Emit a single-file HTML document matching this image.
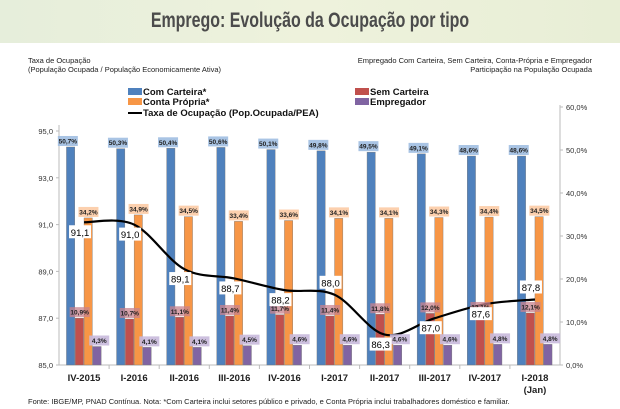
<!DOCTYPE html>
<html><head><meta charset="utf-8"><style>
body{margin:0;width:620px;height:409px;overflow:hidden;background:#fff;font-family:"Liberation Sans",sans-serif}
#band{position:absolute;left:0;top:0;width:620px;height:43px;background:linear-gradient(90deg,#e6eedb,#eef2dc 50%,#e8eed6)}
#title{position:absolute;left:0;top:9px;width:620px;text-align:center;font-size:21px;font-weight:bold;color:#4b4b4b;transform:scaleX(0.76);transform-origin:310px 0}
.t{position:absolute;font-size:7.5px;color:#222}
</style></head><body>
<div id="band"></div>
<div id="title">Emprego: Evolução da Ocupação por tipo</div>
<div class="t" style="left:28px;top:56px">Taxa de Ocupação<br>(População Ocupada / População Economicamente Ativa)</div>
<div class="t" style="right:28px;top:56px;text-align:right">Empregado Com Carteira, Sem Carteira, Conta-Própria e Empregador<br>Participação na População Ocupada</div>
<div class="t" style="left:28px;top:397px;font-size:7.5px">Fonte: IBGE/MP, PNAD Contínua. Nota: *Com Carteira inclui setores público e privado, e Conta Própria inclui trabalhadores doméstico e familiar.</div>
<svg id="c" width="620" height="409" style="position:absolute;left:0;top:0"></svg>
<script>
const categories=["IV-2015","I-2016","II-2016","III-2016","IV-2016","I-2017","II-2017","III-2017","IV-2017","I-2018"];
const comCarteira=[50.7,50.3,50.4,50.6,50.1,49.8,49.5,49.1,48.6,48.6];
const semCarteira=[10.9,10.7,11.1,11.4,11.7,11.4,11.8,12.0,12.1,12.1];
const contaPropria=[34.2,34.9,34.5,33.4,33.6,34.1,34.1,34.3,34.4,34.5];
const empregador=[4.3,4.1,4.1,4.5,4.6,4.6,4.6,4.6,4.8,4.8];
const taxaOcupacao=[91.1,91.0,89.1,88.7,88.2,88.0,86.3,87.0,87.6,87.8];
const leftTicks=[85,87,89,91,93,95];
const rightTicks=[0,10,20,30,40,50,60];

const svg=document.getElementById('c');const NS='http://www.w3.org/2000/svg';
function mk(t,a,p){const e=document.createElementNS(NS,t);for(const k in a)e.setAttribute(k,a[k]);(p||svg).appendChild(e);return e;}
const X0=59,X1=560,yL=v=>365-(v-85)*23.4,yR=v=>365-v*4.3;
const cw=(X1-X0)/categories.length,cx=i=>X0+cw*(i+0.5);
const fmt=v=>v.toFixed(1).replace('.',',');
let e=mk('line',{x1:X0,y1:125,x2:X0,y2:365,stroke:'#bbb'});
e=mk('line',{x1:X1,y1:105,x2:X1,y2:365,stroke:'#bbb'});
e=mk('line',{x1:X0,y1:365,x2:X1,y2:365,stroke:'#bbb'});
leftTicks.forEach(v=>{const t=mk('text',{x:X0-6,y:yL(v)+3,'font-size':7.5,'text-anchor':'end',fill:'#333'});t.textContent=fmt(v);
mk('line',{x1:X0-3,y1:yL(v),x2:X0,y2:yL(v),stroke:'#bbb'});});
rightTicks.forEach(v=>{const t=mk('text',{x:X1+6,y:yR(v)+3,'font-size':7.5,fill:'#333'});t.textContent=fmt(v)+'%';
mk('line',{x1:X1,y1:yR(v),x2:X1+3,y2:yR(v),stroke:'#bbb'});});
const series=[[comCarteira,'#4f81bd','rgba(160,190,225,0.9)','bar-com-carteira',-3],[semCarteira,'#c0504d','rgba(200,130,140,0.75)','bar-sem-carteira',0],[contaPropria,'#f79646','rgba(252,205,170,0.95)','bar-conta-propria',0],[empregador,'#8064a2','rgba(200,185,220,0.9)','bar-empregador',2]];
const bw=8.8;
categories.forEach((c,i)=>{
  if(i>0){mk('line',{x1:X0+cw*i,y1:365,x2:X0+cw*i,y2:369,stroke:'#bbb'});}
  const lines=c==="I-2018"?["I-2018","(Jan)"]:[c];
  lines.forEach((s,k)=>{const t=mk('text',{x:cx(i),y:381+k*12,'font-size':9.5,'font-weight':'bold','text-anchor':'middle',fill:'#222'});t.textContent=s;
  });
  series.forEach((s,j)=>{const v=s[0][i];const x=cx(i)-17.6+j*bw;
    const r=mk('rect',{x:x,y:yR(v),width:bw-0.5,height:365-yR(v),fill:s[1],stroke:'#777','stroke-width':0.4});
    });
});
// line (smooth)
const pts=taxaOcupacao.map((v,i)=>[cx(i),yL(v)]);
let d='M'+pts[0][0]+','+pts[0][1];
for(let i=0;i<pts.length-1;i++){const p0=pts[Math.max(0,i-1)],p1=pts[i],p2=pts[i+1],p3=pts[Math.min(pts.length-1,i+2)];
d+=` C${p1[0]+(p2[0]-p0[0])/6},${p1[1]+(p2[1]-p0[1])/6} ${p2[0]-(p3[0]-p1[0])/6},${p2[1]-(p3[1]-p1[1])/6} ${p2[0]},${p2[1]}`;}
e=mk('path',{d:d,fill:'none',stroke:'#000','stroke-width':2.2});
// bar labels on top
categories.forEach((c,i)=>{
  series.forEach((s,j)=>{const v=s[0][i];const x=cx(i)-17.6+j*bw;
    const lx=x+bw/2+s[4], ly=yR(v)-6;
    mk('rect',{x:lx-10,y:ly-5,width:20,height:10,fill:s[2]});
    const t=mk('text',{x:lx,y:ly+2.5,'font-size':6.5,'font-weight':'bold','text-anchor':'middle',fill:'#222'});t.textContent=fmt(v)+'%';
    });
});
pts.forEach((p,i)=>{const up=(i==5||i==9);const lx=p[0]-4,ly=up?p[1]-12:p[1]+10;
  mk('rect',{x:lx-11,y:ly-7,width:22,height:13,fill:'#fff'});
  const t=mk('text',{x:lx,y:ly+3.5,'font-size':9.5,'text-anchor':'middle',fill:'#000'});t.textContent=fmt(taxaOcupacao[i]);
  });
// legend
const leg=[[128,92,'#4f81bd','Com Carteira*'],[128,102,'#f79646','Conta Própria*'],[355,92,'#c0504d','Sem Carteira'],[355,102,'#8064a2','Empregador']];
leg.forEach(l=>{mk('rect',{x:l[0],y:l[1]-4,width:14,height:7,fill:l[2]});const t=mk('text',{x:l[0]+15,y:l[1]+3,'font-size':9.5,'font-weight':'bold',fill:'#111'});t.textContent=l[3];
});
mk('line',{x1:128,y1:113,x2:142,y2:113,stroke:'#000','stroke-width':2});
e=mk('text',{x:143,y:116,'font-size':9.5,'font-weight':'bold',fill:'#111'});e.textContent='Taxa de Ocupação (Pop.Ocupada/PEA)';

</script>
</body></html>
